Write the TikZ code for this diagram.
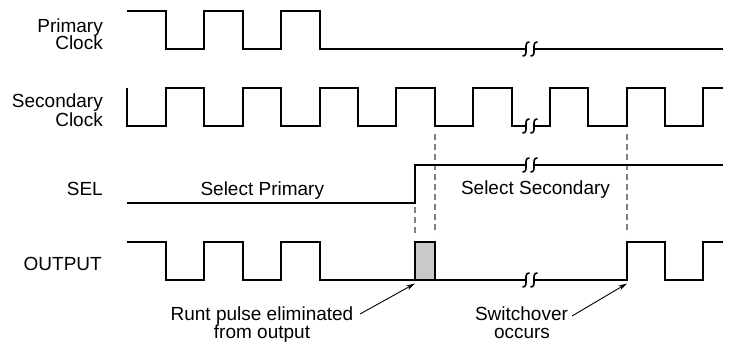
\documentclass[tikz,border=0pt]{standalone}
\usepackage{fontspec}
\setmainfont{Liberation Sans}
\usetikzlibrary{arrows.meta}
\newcommand{\wavebreak}[2]{\draw[brk] (#1+3.5,#2-7) .. controls (#1-4,#2-7.5) and (#1+4,#2+7.5) .. (#1-3.5,#2+7);}
\begin{document}
\begin{tikzpicture}[x=1pt,y=-1pt,
 wave/.style={line width=1.7pt, line join=miter},
 brk/.style={line width=1.6pt},
 guide/.style={draw=gray, line width=1.1pt, dash pattern=on 6pt off 4pt},
 lbl/.style={inner sep=0pt, font=\fontsize{19}{18}\selectfont},
 callout/.style={line width=0.9pt, -{Stealth[length=9pt,width=5pt]}}
]
\useasboundingbox (0,0) rectangle (734,346);

% labels
\node[lbl, anchor=base east] (pri1) at (103,32) {Primary};
\node[lbl, anchor=base east] (pri2) at (103,49.5) {Clock};
\node[lbl, anchor=base east] (sec1) at (103,107) {Secondary};
\node[lbl, anchor=base east] (sec2) at (103,126) {Clock};
\node[lbl, anchor=base east] (sel) at (103,195) {SEL};
\node[lbl, anchor=base east] (out) at (102,270) {OUTPUT};
\node[lbl, anchor=base] (selp) at (262.3,195) {Select Primary};
\node[lbl, anchor=base] (sels) at (535.5,194) {Select Secondary};
\node[lbl, anchor=base] (runt1) at (262,320) {Runt pulse eliminated};
\node[lbl, anchor=base] (runt2) at (262,338) {from output};
\node[lbl, anchor=base] (sw1) at (521.5,320) {Switchover};
\node[lbl, anchor=base] (sw2) at (522,338) {occurs};

% guides
\draw[guide] (435,134) -- (435,234);
\draw[guide] (627,134) -- (627,234);
\draw[guide] (415,207) -- (415,234);

% primary clock
\draw[wave] (127,11) -| (166,49) -| (204,11) -| (243,49) -| (281,11) -| (320,49) -- (526,49);
\draw[wave] (534,49) -- (723,49);
\wavebreak{526}{49}\wavebreak{534}{49}

% secondary clock
\draw[wave] (127,88) -- (127,126) -| (166,88) -| (204,126) -| (243,88) -| (281,126) -| (320,88) -| (358,126) -| (396,88) -| (435,126) -| (473,88) -| (512,126) -- (526,126);
\draw[wave] (534,126) -| (550,88) -| (588,126) -| (627,88) -| (665,126) -| (703,88) -- (723,88);
\wavebreak{526}{126}\wavebreak{534}{126}

% SEL
\draw[wave] (127,203) -| (415,165) -- (526,165);
\draw[wave] (534,165) -- (723,165);
\wavebreak{526}{165}\wavebreak{534}{165}

% OUTPUT
\draw[wave, fill=gray!42] (415,280) rectangle (435,242);
\draw[wave] (127,242) -| (166,280) -| (204,242) -| (243,280) -| (281,242) -| (320,280) -- (526,280);
\draw[wave] (534,280) -| (627,242) -| (665,280) -| (703,242) -- (723,242);
\wavebreak{526}{280}\wavebreak{534}{280}

% callouts
\coordinate (runttail) at (360,314);
\coordinate (runttip) at (415,283.5);
\coordinate (swtail) at (572,316);
\coordinate (swtip) at (627,283.5);
\draw[callout] (runttail) -- (runttip);
\draw[callout] (swtail) -- (swtip);
\end{tikzpicture}
\end{document}
